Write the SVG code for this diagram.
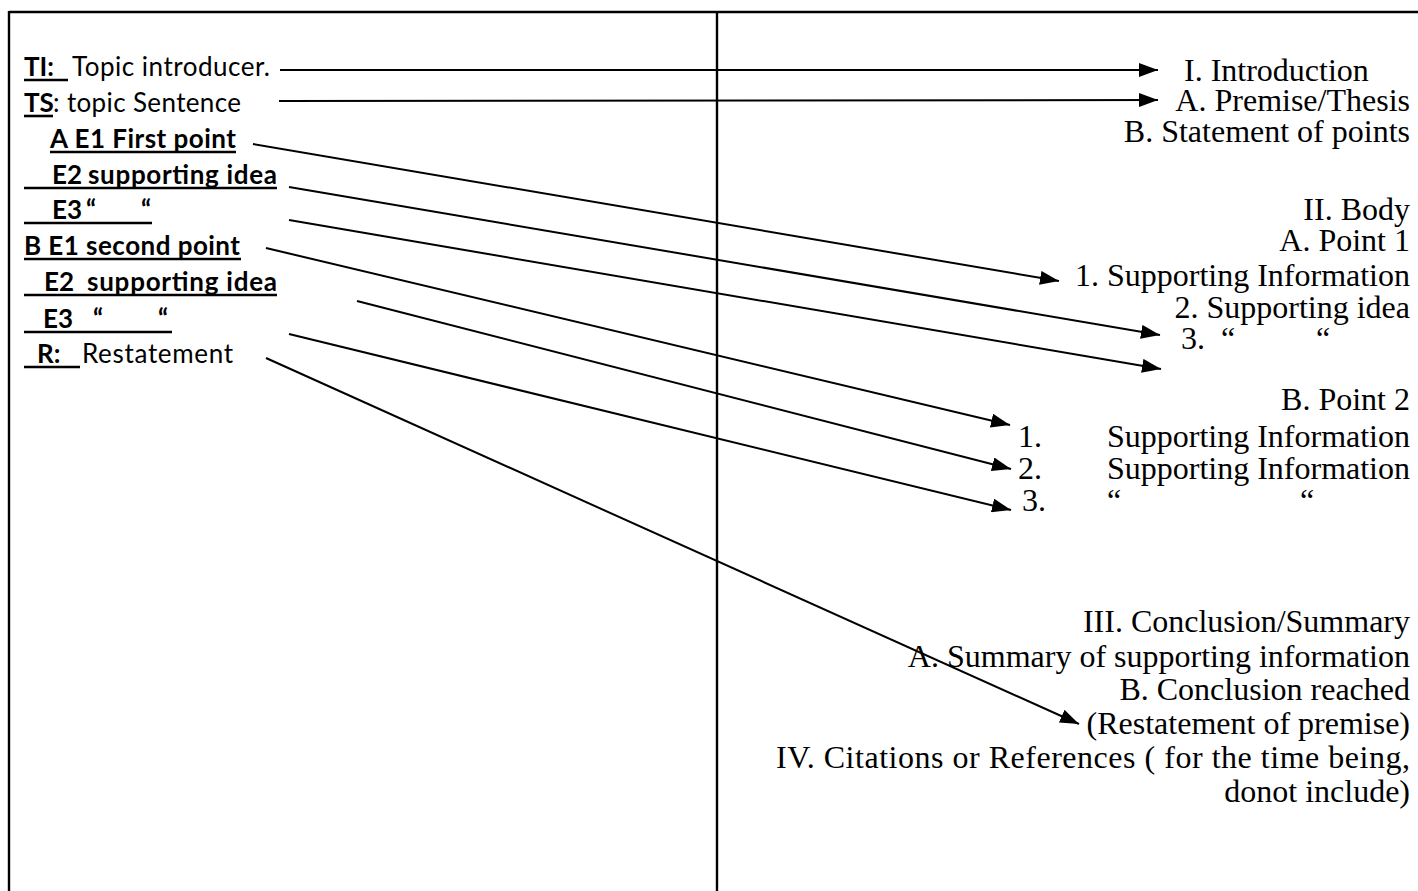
<svg xmlns="http://www.w3.org/2000/svg" width="1418" height="891" viewBox="0 0 1418 891">
<style>
.lb{font-family:Lato,"Liberation Sans",sans-serif;font-size:26px;font-weight:bold;fill:#000}
.lr{font-family:Lato,"Liberation Sans",sans-serif;font-size:26px;fill:#000}
.tr{font-family:"Liberation Serif","Times New Roman",serif;font-size:32px;fill:#000}
.end{text-anchor:end}
.ul{stroke:#000;stroke-width:2.6}
.frame{stroke:#000;stroke-width:2.4;fill:none}
.conn{stroke:#000;stroke-width:2;fill:none;marker-end:url(#ah)}
</style>
<defs>
<marker id="ah" markerUnits="userSpaceOnUse" markerWidth="20" markerHeight="14" refX="19" refY="7" orient="auto">
<path d="M0,0 L19,7 L0,14 z" fill="#000"/>
</marker>
</defs>
<rect width="1418" height="891" fill="#fff"/>
<g id="frame">
<line class="frame" x1="9" y1="12" x2="1418" y2="12"/>
<line class="frame" x1="9" y1="11" x2="9" y2="891"/>
<line class="frame" x1="717" y1="12" x2="717" y2="891"/>
</g>
<g id="left-ti">
<text class="lb" x="24" y="76">TI:</text>
<text class="lr" x="72" y="76" textLength="198">Topic introducer.</text>
<line class="ul" x1="24" y1="80" x2="68" y2="80"/>
</g>
<g id="left-ts">
<text class="lb" x="24" y="112">TS</text>
<text class="lr" x="53" y="112" textLength="188">: topic Sentence</text>
<line class="ul" x1="24" y1="116" x2="53" y2="116"/>
</g>
<g id="left-a-e1">
<text class="lb" x="50" y="148" textLength="186">A E1 First point</text>
<line class="ul" x1="50" y1="152" x2="236" y2="152"/>
</g>
<g id="left-a-e2">
<text class="lb" x="52" y="184">E2</text>
<text class="lb" x="88" y="184" textLength="189">supporting idea</text>
<line class="ul" x1="24" y1="188" x2="277" y2="188"/>
</g>
<g id="left-a-e3">
<text class="lb" x="52" y="219">E3</text>
<text class="lb" x="86" y="219">“</text>
<text class="lb" x="141" y="219">“</text>
<line class="ul" x1="24" y1="223" x2="152" y2="223"/>
</g>
<g id="left-b-e1">
<text class="lb" x="24" y="255" textLength="216">B E1 second point</text>
<line class="ul" x1="24" y1="259" x2="241" y2="259"/>
</g>
<g id="left-b-e2">
<text class="lb" x="44" y="291">E2</text>
<text class="lb" x="87" y="291" textLength="190">supporting idea</text>
<line class="ul" x1="24" y1="295" x2="277" y2="295"/>
</g>
<g id="left-b-e3">
<text class="lb" x="43" y="328">E3</text>
<text class="lb" x="93" y="328">“</text>
<text class="lb" x="158" y="328">“</text>
<line class="ul" x1="24" y1="332" x2="172" y2="332"/>
</g>
<g id="left-r">
<text class="lb" x="37" y="363">R:</text>
<text class="lr" x="82" y="363" textLength="151">Restatement</text>
<line class="ul" x1="24" y1="367" x2="80" y2="367"/>
</g>
<g id="right-intro">
<text class="tr" x="1184" y="81">I. Introduction</text>
<text class="tr end" x="1410" y="111">A. Premise/Thesis</text>
<text class="tr end" x="1410" y="142">B. Statement of points</text>
</g>
<g id="right-body">
<text class="tr end" x="1410" y="220">II. Body</text>
<text class="tr end" x="1410" y="251">A. Point 1</text>
<text class="tr end" x="1410" y="286">1. Supporting Information</text>
<text class="tr end" x="1410" y="318">2. Supporting idea</text>
<text class="tr" x="1181" y="349">3.</text>
<text class="tr" x="1221" y="349">“</text>
<text class="tr" x="1316" y="349">“</text>
</g>
<g id="right-point2">
<text class="tr end" x="1410" y="410">B. Point 2</text>
<text class="tr" x="1018" y="447">1.</text>
<text class="tr end" x="1410" y="447">Supporting Information</text>
<text class="tr" x="1018" y="479">2.</text>
<text class="tr end" x="1410" y="479">Supporting Information</text>
<text class="tr" x="1022" y="511">3.</text>
<text class="tr" x="1107" y="511">“</text>
<text class="tr" x="1300" y="511">“</text>
</g>
<g id="right-conclusion">
<text class="tr end" x="1410" y="632">III. Conclusion/Summary</text>
<text class="tr end" x="1410" y="667">A. Summary of supporting information</text>
<text class="tr end" x="1410" y="700">B. Conclusion reached</text>
<text class="tr end" x="1410" y="734">(Restatement of premise)</text>
<text class="tr" x="776" y="768" textLength="634">IV. Citations or References ( for the time being,</text>
<text class="tr end" x="1410" y="802">donot include)</text>
</g>
<g id="connectors">
<line class="conn" x1="280" y1="70" x2="1158" y2="70"/>
<line class="conn" x1="279" y1="101" x2="1158" y2="100"/>
<line class="conn" x1="253" y1="144" x2="1059" y2="281"/>
<line class="conn" x1="289" y1="187" x2="1160" y2="335"/>
<line class="conn" x1="289" y1="220" x2="1161" y2="369"/>
<line class="conn" x1="266" y1="248" x2="1010" y2="425"/>
<line class="conn" x1="357" y1="301" x2="1011" y2="469"/>
<line class="conn" x1="289" y1="334" x2="1011" y2="510"/>
<line class="conn" x1="266" y1="358" x2="1079" y2="724"/>
</g>
</svg>
